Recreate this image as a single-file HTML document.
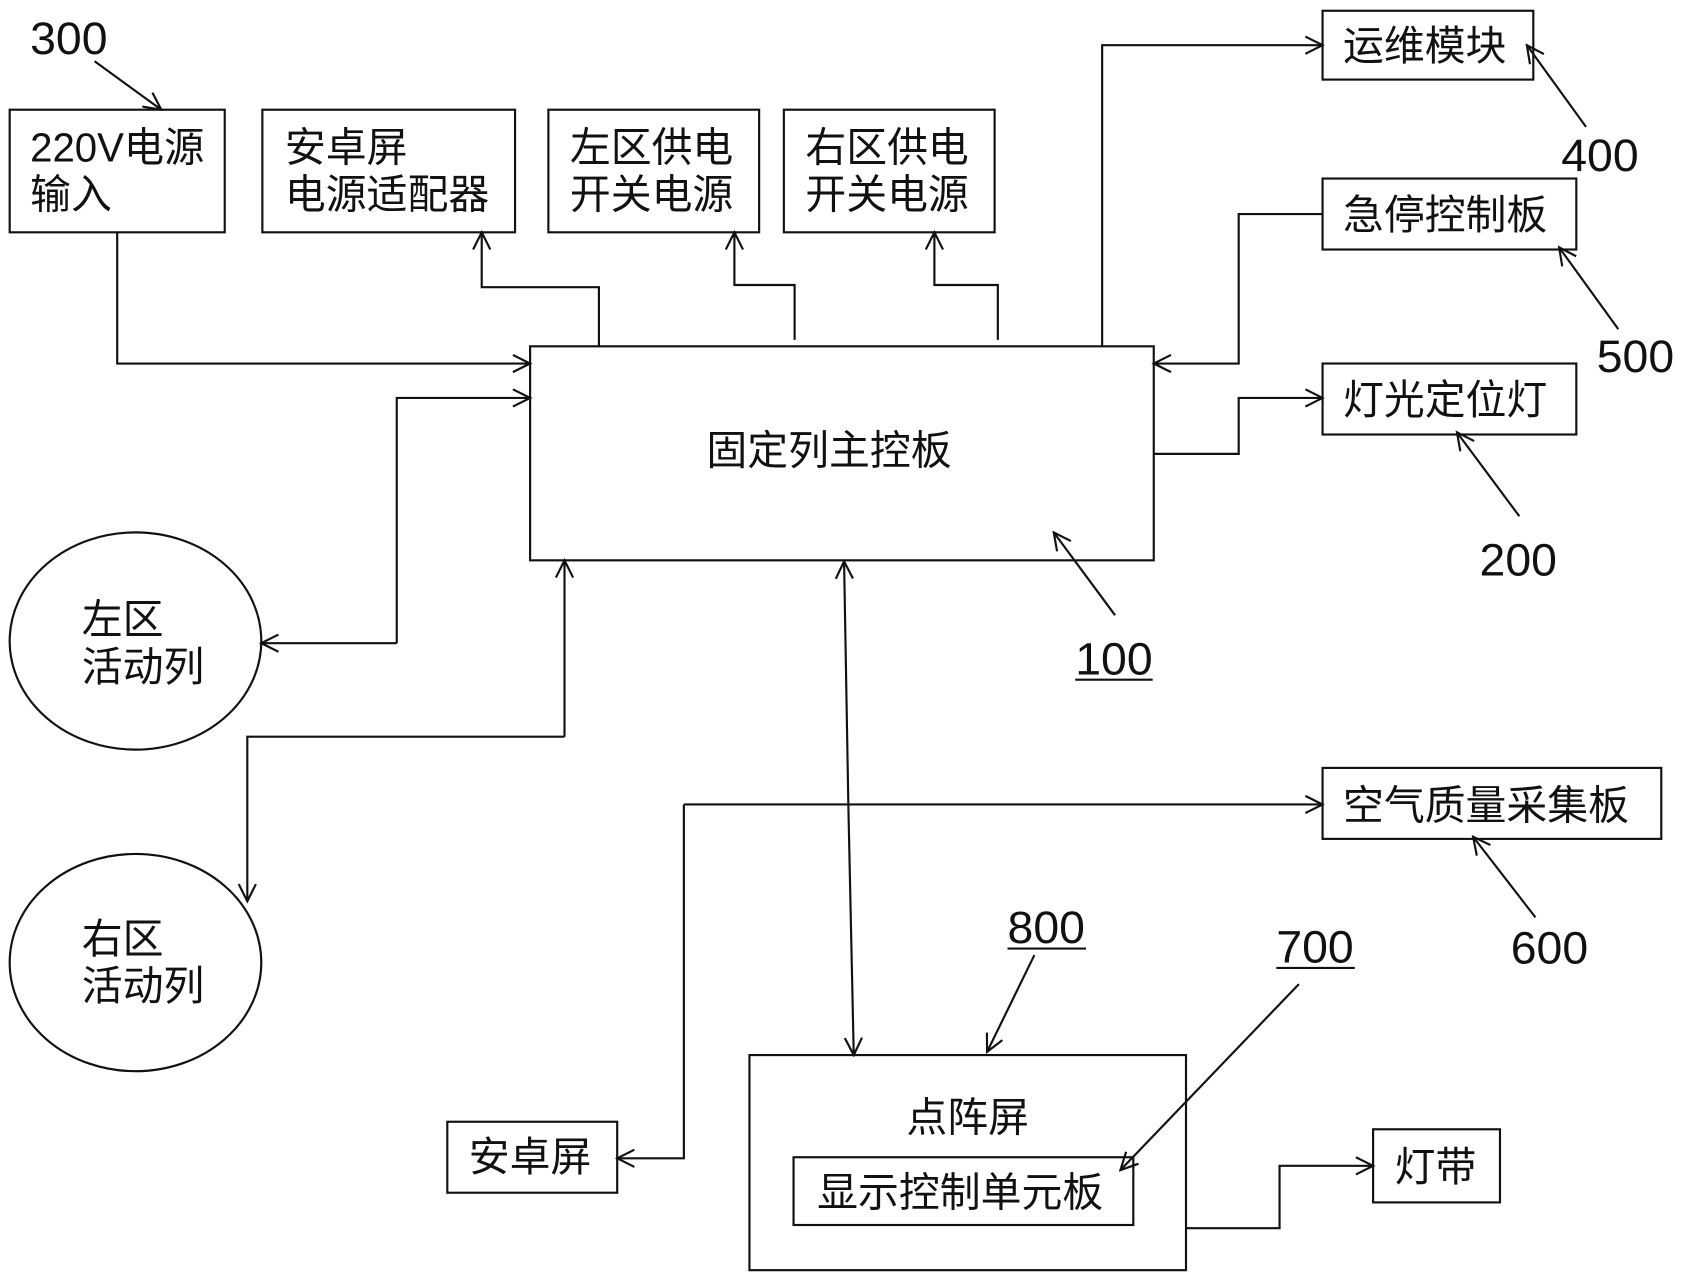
<!DOCTYPE html>
<html><head><meta charset="utf-8"><style>
html,body{margin:0;padding:0;background:#fff;}
svg{display:block}
text{font-family:"Liberation Sans","Noto Sans CJK SC",sans-serif;fill:#111;}
.c{font-size:38px}
.n{font-size:42px}
</style></head><body>
<svg width="1686" height="1282" viewBox="0 0 1568 1192" preserveAspectRatio="none" xmlns="http://www.w3.org/2000/svg">
<defs>
<marker id="a" markerWidth="20" markerHeight="20" refX="18" refY="10" orient="auto" markerUnits="userSpaceOnUse">
<path d="M2,2 L18,10 L2,18" fill="none" stroke="#111" stroke-width="2"/>
</marker>
</defs>
<g fill="none" stroke="#111" stroke-width="2">
<rect x="9" y="102" width="200" height="114"/>
<rect x="244" y="102" width="235" height="114"/>
<rect x="510" y="102" width="196" height="114"/>
<rect x="729" y="102" width="196" height="114"/>
<rect x="1230" y="10" width="196" height="64"/>
<rect x="1230" y="166" width="236" height="66"/>
<rect x="1230" y="338" width="236" height="66"/>
<rect x="493" y="322" width="580" height="199"/>
<rect x="1230" y="714" width="315" height="66"/>
<rect x="697" y="981" width="406" height="200"/>
<rect x="738" y="1076" width="316" height="63"/>
<rect x="416" y="1043" width="158" height="66"/>
<rect x="1277" y="1050" width="118" height="68"/>
<ellipse cx="126" cy="596" rx="117" ry="101"/>
<ellipse cx="126" cy="895" rx="117" ry="101"/>
<polyline points="109,216 109,338 493,338" marker-end="url(#a)"/>
<polyline points="557,322 557,267 448,267 448,216" marker-end="url(#a)"/>
<polyline points="739,316 739,265 683,265 683,216" marker-end="url(#a)"/>
<polyline points="928,316 928,265 869,265 869,216" marker-end="url(#a)"/>
<polyline points="1025,322 1025,42 1230,42" marker-end="url(#a)"/>
<polyline points="1230,199 1152,199 1152,338 1073,338" marker-end="url(#a)"/>
<polyline points="1073,422 1152,422 1152,370 1230,370" marker-end="url(#a)"/>
<polyline points="369,598 369,370 493,370" marker-end="url(#a)"/>
<polyline points="369,598 243,598" marker-end="url(#a)"/>
<polyline points="525,685 525,521" marker-end="url(#a)"/>
<polyline points="525,685 230,685 230,838" marker-end="url(#a)"/>
<line x1="789" y1="750" x2="785" y2="522" marker-end="url(#a)"/>
<line x1="789" y1="750" x2="794" y2="981" marker-end="url(#a)"/>
<polyline points="636,748 1230,748" marker-end="url(#a)"/>
<polyline points="636,748 636,1077 574,1077" marker-end="url(#a)"/>
<polyline points="1103,1142 1190,1142 1190,1084 1277,1084" marker-end="url(#a)"/>
<line x1="88" y1="57" x2="150" y2="102" marker-end="url(#a)"/>
<line x1="1475" y1="118" x2="1420" y2="42" marker-end="url(#a)"/>
<line x1="1505" y1="306" x2="1450" y2="230" marker-end="url(#a)"/>
<line x1="1413" y1="480" x2="1355" y2="402" marker-end="url(#a)"/>
<line x1="1037" y1="572" x2="980" y2="495" marker-end="url(#a)"/>
<line x1="1428" y1="853" x2="1370" y2="778" marker-end="url(#a)"/>
<line x1="962" y1="888" x2="918" y2="978" marker-end="url(#a)"/>
<line x1="1208" y1="915" x2="1042" y2="1088" marker-end="url(#a)"/>
<line x1="1000" y1="632" x2="1072" y2="632"/>
<line x1="937" y1="882" x2="1010" y2="882"/>
<line x1="1187" y1="900" x2="1260" y2="900"/>
</g>
<text class="c" x="28" y="150" textLength="162" lengthAdjust="spacingAndGlyphs">220V电源</text>
<text class="c" x="28" y="194">输入</text>
<text class="c" x="265" y="150">安卓屏</text>
<text class="c" x="265" y="194">电源适配器</text>
<text class="c" x="530" y="150">左区供电</text>
<text class="c" x="530" y="194">开关电源</text>
<text class="c" x="749" y="150">右区供电</text>
<text class="c" x="749" y="194">开关电源</text>
<text class="c" x="1249" y="56">运维模块</text>
<text class="c" x="1249" y="213">急停控制板</text>
<text class="c" x="1249" y="385">灯光定位灯</text>
<text class="c" x="657" y="432">固定列主控板</text>
<text class="c" x="76" y="589">左区</text>
<text class="c" x="76" y="633">活动列</text>
<text class="c" x="76" y="886">右区</text>
<text class="c" x="76" y="930">活动列</text>
<text class="c" x="1249" y="762">空气质量采集板</text>
<text class="c" x="843" y="1052">点阵屏</text>
<text class="c" x="760" y="1122">显示控制单元板</text>
<text class="c" x="436" y="1089">安卓屏</text>
<text class="c" x="1297" y="1098">灯带</text>
<text class="n" x="28" y="50" textLength="72" lengthAdjust="spacingAndGlyphs">300</text>
<text class="n" x="1452" y="159" textLength="72" lengthAdjust="spacingAndGlyphs">400</text>
<text class="n" x="1485" y="346" textLength="72" lengthAdjust="spacingAndGlyphs">500</text>
<text class="n" x="1376" y="535" textLength="72" lengthAdjust="spacingAndGlyphs">200</text>
<text class="n" x="1000" y="627" textLength="72" lengthAdjust="spacingAndGlyphs">100</text>
<text class="n" x="1405" y="896" textLength="72" lengthAdjust="spacingAndGlyphs">600</text>
<text class="n" x="937" y="877" textLength="72" lengthAdjust="spacingAndGlyphs">800</text>
<text class="n" x="1187" y="895" textLength="72" lengthAdjust="spacingAndGlyphs">700</text>
</svg>
</body></html>
